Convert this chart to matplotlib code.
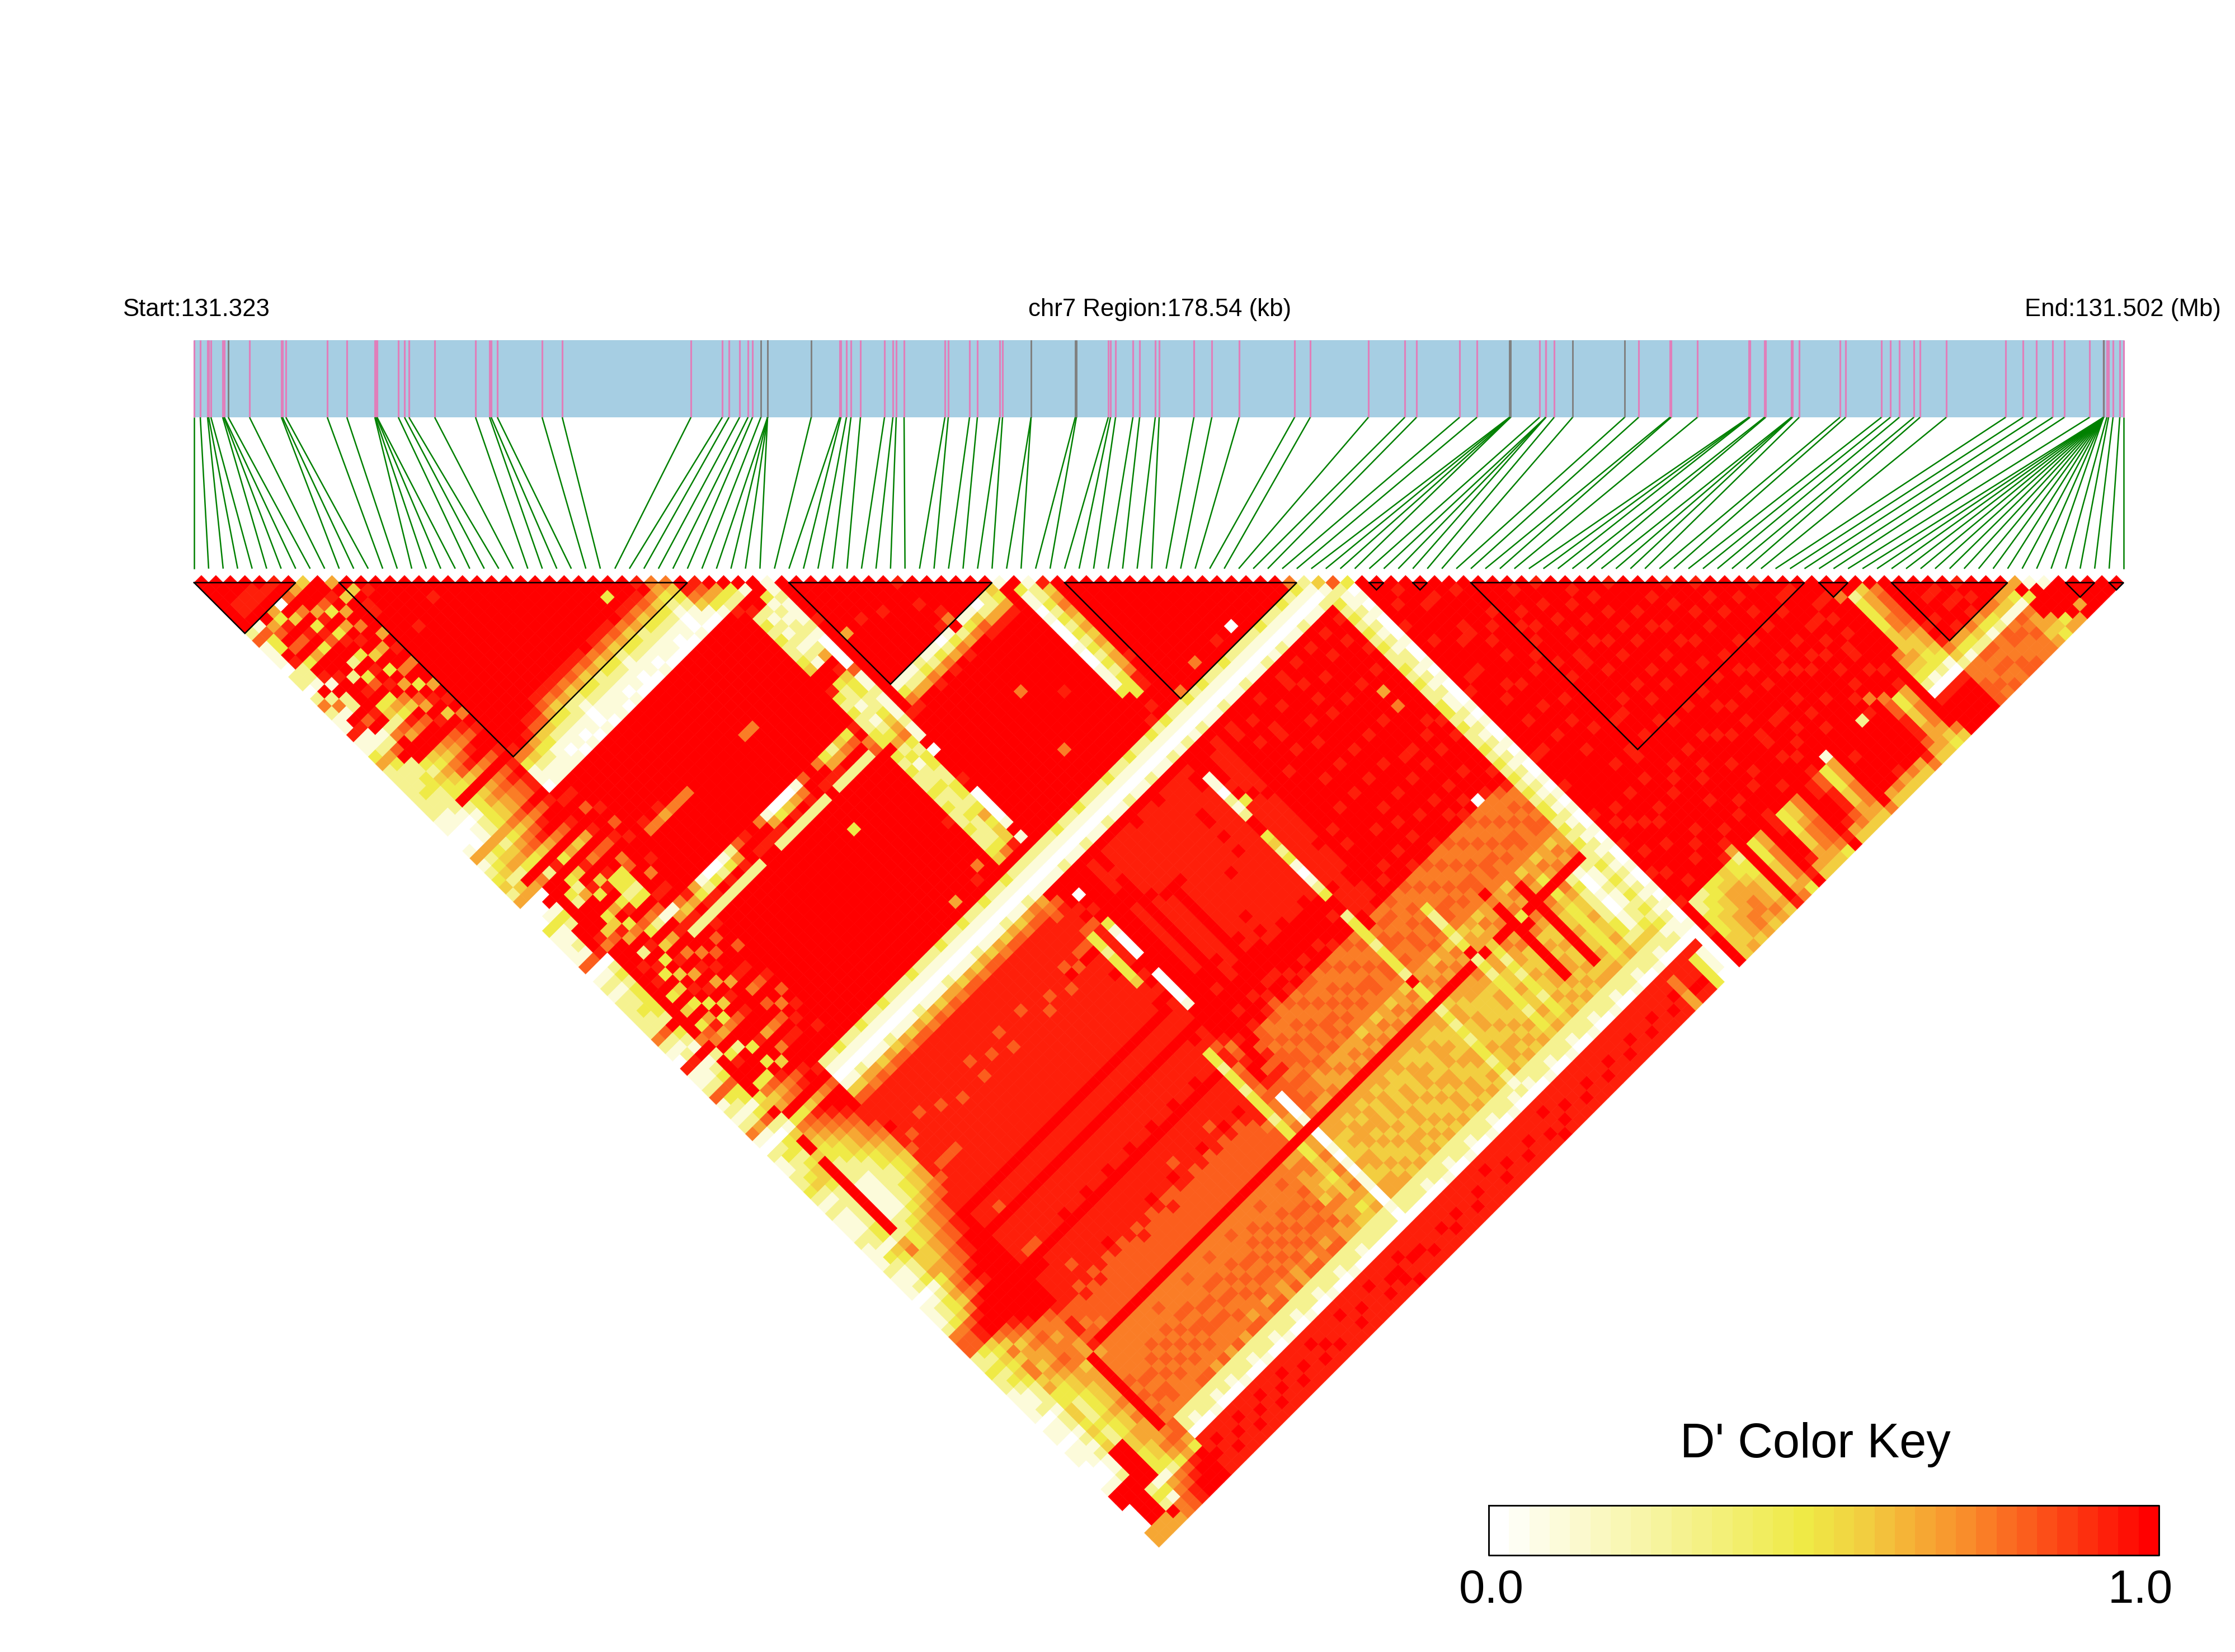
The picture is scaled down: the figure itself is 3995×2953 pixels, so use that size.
"""LD heatmap of a chr7 region with D' colour key."""

import matplotlib

matplotlib.use("Agg")
import matplotlib.pyplot as plt
from matplotlib.collections import PolyCollection
from matplotlib.colors import LinearSegmentedColormap

plt.rcParams["font.family"] = ["Liberation Sans", "DejaVu Sans"]

WIDTH, HEIGHT = 3995, 2953

# SNP position along the region, 0 = start, 3449 = end
SNP_POS = [
    0, 11, 24, 26, 30, 51, 53, 54, 61, 99, 156, 158, 164, 238, 273, 323, 324, 326, 327, 365,
    376, 384, 430, 503, 528, 531, 542, 622, 658, 888, 944, 956, 975, 990, 998, 1013, 1025, 1025, 1025, 1025,
    1103, 1154, 1156, 1166, 1174, 1191, 1234, 1249, 1255, 1269, 1342, 1348, 1386, 1400, 1440, 1445, 1496, 1496, 1575, 1577,
    1634, 1638, 1647, 1678, 1690, 1718, 1725, 1787, 1819, 1868, 1967, 1995, 2099, 2164, 2185, 2262, 2293, 2351, 2352, 2353,
    2353, 2405, 2416, 2416, 2416, 2431, 2464, 2557, 2582, 2638, 2640, 2687, 2779, 2780, 2781, 2807, 2809, 2855, 2856, 2857,
    2869, 2942, 2952, 3016, 3032, 3048, 3074, 3085, 3132, 3238, 3269, 3293, 3322, 3343, 3388, 3413, 3413, 3413, 3413, 3413,
    3413, 3413, 3413, 3413, 3413, 3413, 3413, 3413, 3413, 3419, 3422, 3430, 3442, 3449,
]
GREY_SNPS = [8, 35, 36, 37, 38, 39, 40, 56, 57, 58, 59, 77, 78, 79, 80, 86, 87, 115, 116, 117, 118, 119, 120, 121]

# LD blocks as (first SNP, last SNP)
BLOCKS = [(0, 7), (10, 34), (41, 55), (60, 76), (81, 82), (84, 85), (88, 111), (112, 114), (117, 125), (129, 131), (132, 133)]

# D' per level character, read against the colour key
LEVELS = {"0": 0.0, "1": 0.1, "2": 0.28, "3": 0.47, "4": 0.56, "5": 0.66, "6": 0.75, "7": 0.81, "8": 0.91, "9": 0.97, "a": 1.0}

# One string per SNP i, cells (i, j) for j = i+1 ..., split where j reaches a multiple of ten
LD_ROWS = [
    "aaaaaaa27 1110220262 1181135222 2222110015 1234250003 1111701212 2222621081 1271212610 2112232121 1121112111 0111267722 3221111011 0110001aa0 0055",
    "aaa88a17 33a8221a26 1a81125322 2322110005 2342450013 1121701212 2322721281 1273212510 2322342121 1122132112 0122367732 3232112011 0111001aaa aa55",
    "aa88aa5 7a7a3a81a2 2a7a127a22 3322210115 3452a50a13 2aaa802323 3332a32191 2373313720 3323443222 2233143223 1233478843 4343222122 1212112aaa aa55",
    "a88a53 8a7a5aa8aa aa8a26aaa3 2433a21225 2453a6aaaa aaa86aaaaa aaaaaaa6a2 aaaaa34a21 4aa4aaaaaa aaaa256445 3454689964 6466453344 3434aaaaa2 32a5",
    "a8a0a 4a8a3aaa2a 8a34275aa4 3543a33335 3563a2aa32 aaa47aaa8a 8a3a4a376a 38aa3645a3 6543322211 1112233445 5676899a76 4554543322 2322aaaaa1 3166",
    "8a7a 6a387aa2a3 7a35386aa5 4674a45446 4674a8a325 aa3485a2a8 3a4a3a585a 29aa3756a3 7654332211 1112344556 6787999a87 5655654433 3433443331 5677",
    "a5a a58a38a3a8 a8a6497aa6 5785a56557 5785a3a4a8 3a5a36a8a3 a4a8a3a36a a3a3a867a4 8765443222 2223455667 7898aa9a98 6766765544 4544554432 6788",
    "4a a73a5a8a4a 3a5a75a8a7 6896a67668 6896a5a8a4 8a38a73a4a 8a5a8a4a7a a8aa4978a5 9876554332 2334566778 8999aa9a99 6656664555 5656555653 7899",
    "a a8a5a6aa5a a6a3a8a4a8 79a7a78779 79a7a4a6a8 3323a62a5a 6a8a5a8a8a a5a6a989a6 a987665443 3445677889 9a9aaa9aa9 766655aaaa aaaaaa6765 89aa",
    "5a4a9aa5a8 a6aa5a8a6a 89a8a89889 8aa8a5a7a9 3323a71a8a a6a8a5a999 a6a8a998a7 9a98876554 4556788999 aaa9aa9a9a 8788785666 7676767753 99aa",
    "a4a88aaaa aa9aaaa9aa a9a9863110 a89aa8a7a6 7aaa8a1582 aa7aa8a6a7 a7a8a9a210 1478889887 8887888a88 a8888aa888 87767a6666 6767662208 8988",
    "a8aaa9aa a9aaaaaa9a aa9a964211 a8a7aaa89a aa6a8a6482 a7aaa8a7aa 6a8aa9a210 1478888878 8878888a88 a8887aa888 87776a6666 6767762108 9888",
    "aaaaaa8 aaa9aaaaaa 9aa9853211 9aaa8a7a8a a8aaaa8592 8aa7aaa8a7 a8aa8aa310 2568888888 8878888a87 a8887a8888 78777a6666 7676662208 8898",
    "aaa9aa aaaaa9aaaa a9a8743111 aa9aaaaa9a aaaa9a5382 aa9a9a9aaa 9aaa9a9210 1578888788 8878888a88 a8888a8878 87777a6667 6767662218 8988",
    "aaaaa aa9aaaaaaa 9a98742101 a9aaaa9a86 aaaaa91282 a9aaa9aa9a aa9aa9a210 1468888888 8888888a88 a8888a8888 78777a6666 7676672108 9888",
    "aa8a aaaaa9aaaa 9a87532110 aaa9aaaa96 aaaa9a0392 9aaaaa9aa9 aa9aaa9310 1578888878 8888888a88 a8888a8888 87777a6667 6767672208 8898",
    "a9a aaaaaaa9aa a986432101 aa9aaa9a85 aaaaa90282 aa9aa9aaaa 9aa9aa9210 2478888888 8888888a88 a8889a8888 77777a6766 7676652108 8988",
    "aa a9aaaaaaaa 9a87522110 9aaaaaaa96 aaa9aa1392 a9aaaaa9aa a9aa9aa210 1568888887 8888888a88 a8888a8889 87777a6667 6767672218 9888",
    "a aaa9aaaaaa a986421001 aaa9aaa9a6 aaaaa92582 aaaa9aaa9a aaa9aa9310 1478888888 8888888a88 a8888a8888 77777a6667 6776652208 8898",
    "aaaaa9aaaa a987532110 a9aaaaaa96 aaaa9a7a92 aa9aaa9aaa 9aaa9aa210 1578888888 8888888a88 a8889a8888 87777a6666 7676672108 8988",
    "aa9aaaaaa 9a86432111 aaaaa9aaa9 a9aaaa8a8a 9aaaa9aa9a aa9aaa9210 2468888787 8888888a88 a8888a8888 78777a6766 7676652218 9888",
    "aaaaa9aa a987522110 aa9aaaaaaa aaaaa99a8a aaa9aaaa9a a9aaa9a210 1578888888 8888888a88 a8888a8888 87777a6667 6767672208 8898",
    "aaaaaaa 9a96432101 aaaaa9aaaa aa9aaa6982 a9aaa9aaaa aaa9aaa310 1468888878 8888888a88 a8889a8888 77777a6667 6766572108 8988",
    "aa9aaa a987532110 aaa9aaaaa9 aaaa9a1582 aaa9aaa9aa 9aa9aa9210 1578888888 8888888a88 a8888a8889 87777a6766 7676662218 8888",
    "aaaaa 9a86421100 aaaaaaaa9a a9aaaa0392 9aaaaa9aaa aaaa9aa210 2568888787 8888888a88 a8888a8888 78777a6667 6767572208 9898",
    "a9aa a987532110 a9aaa9aaaa aaaa9a0482 aa9aaaa9aa a9aaa9a210 1478888888 8888888a88 a8889a8888 77777a6666 7676672108 8988",
    "aaa 9a96432101 aaaaaaa9aa aaa9aa0592 a9aa9aaaaa 9aa9aaa310 1578888888 8888888a88 a8888a8889 87777a6766 7676552218 8898",
    "aa 3a87522110 aa9aaaaaa6 aaaaa91682 aaaaaaa9aa aa9aa9a210 1468888788 8888888a88 a8888a8878 87777a6667 6767672208 8888",
    "a 9a86432110 aaaaaa9aa6 aaaa9a7a92 9aa3aaaaa9 aaaa9aa210 2578888888 8888888a88 a8889a8888 77777a6676 7676552108 9888",
    "9a87532100 a9aaaaaaaa aaa9aa9a8a aa9aaaa9aa a9aaa9a310 1478888887 8888888a88 a8888a8888 87777a6667 6767672218 8898",
    "8a6432110 aa9aaa9aaa a9aaaa6982 aaaaa9aaaa 9aaa95a210 1568888878 8888888a88 a8888a8889 77777a6766 7676572208 8988",
    "65321001 aaaaaa9aaa aaaaa93582 a9aaaaaa9a aa9aaaa210 1478888888 8888888a88 a8889a8888 87777a6667 6767662108 8888",
    "6432110 aaa9aaaaaa aa9aaa2592 aaa9aa9aaa a9aa9a9310 2578888887 8888888a88 a8888a8878 77777a6666 7676572218 9888",
    "a86410 a9aaaaaa9a aaaa9a4692 9aaaaaa9aa aaaaa8a210 1468888798 8888888a88 a8888a8889 87777a6766 7676672208 8898",
    "87531 aaaaa9aaaa 9aaa9a3792 a9aaaa9aaa a9a96aa210 1578888878 8888888a88 a8889a8888 77777a6667 6767552108 8988",
    "a532 8a9aaaa9aa a9aa9a8a67 9a9a9aa9a8 a9a9a9a310 2678888798 8888888a88 a8888a8889 87777a5655 5465652208 8998",
    "a32 a823232234 9a83232233 a323223232 232234a210 1567888798 8a88888a88 a8888a8888 88677a5665 4565542208 9889",
    "a1 a921212121 a932212123 5231223222 322236a210 1a78887332 3334889a88 a983323323 33233a3344 3445342208 8988",
    "a a312122125 a843322345 6323322332 353448a210 1a998a7888 88a8a8a888 a887886776 76656a5565 6565452208 8988",
    "1121112100 0071121112 11a0a9a890 0001a1a210 1a90a89310 00a900001a a9a86789a8 70001a0010 1011001008 8898",
    "aa9aa8aaa aaaa9aa9a8 aa9aa9a9aa a9aaa9a210 2aaaaaaaaa aaaaaaaaa9 aaaa8a9a78 77776a5544 4544552208 8888",
    "aaaa9aa5 aaaaaa1368 aaaa9aaaaa aaa9aaa210 1aaaaa99aa aaaaaaaaaa aaaaa97878 67675a5545 4554552208 8988",
    "aaa9aaa 9aaaaa1259 a9aaaaaa9a 9aaaa9a310 1a88889988 8888888aa8 9a8a877677 67665a5455 5445452208 8898",
    "aaaaa8 aa9aaa1259 aaaaa9aaaa aa9aaa9210 2a998aaaaa aaaaaaaaaa aaa9a66767 76556a5545 4544542108 8988",
    "aa9aa aaaaa92368 a9aaaaa9aa aaaa9a9210 1a888888a8 8888888a88 aa8a876676 67655a5455 5454452208 8888",
    "aaaa 8aaaaa1259 aaa9aaaaaa 9aa9aaa310 1a8888888a 8888888889 aaa8766767 76565a5544 4545542218 8898",
    "aa9 aaaaa91368 aaaaaa9aaa aa9aaa9210 2a88888889 aaaaaaaaa9 aa89a76676 67556a5455 5445452108 8988",
    "aa a9aaaa0259 aaa9aa9aaa a9aaaaa210 1a88888889 8888888a8a aa8a867667 76565a5544 4554542208 8888",
    "8 aa8aa81368 9aaaaaaa9a aa6aa9a210 1aa8888888 8888888889 aaa8a76767 67556a5445 5445452218 9888",
    "aaaa86a259 aaaaa6aa9a a9aaaaa310 2a88888888 888888a8a8 aaaa876676 76465a5544 4544542108 8898",
    "aaa9a1369 a9aaaa9aaa aaa9aa9210 1a88888888 8888888888 aaa8a66767 66556a5455 5454452208 8988",
    "aa9a1478 aaa9aaaaaa a9aaaaa210 1aa8888888 88a8888889 aaaa976676 76465a5445 4545542218 8888",
    "aaa0258 aaaaa9aa8a aaa9aa9310 2a88888888 8888888888 aaa8a67667 66556a5544 4554452108 8898",
    "a92258 a9aaaaa9aa aaaaa9a210 1a8888aa89 8a88888888 aaaa866767 76465a5455 5445542208 8988",
    "a4358 aaaaaa9aaa a9aaaaa210 1a88888888 8888888889 a9a9a76676 66556a5445 4544452218 8888",
    "1aaa aaaaaaaa9a aaa9aa9310 2a8aa88888 8888888888 9a8a967667 76465a5544 4554542108 8898",
    "a31 1010001001 113a9a8210 1a9a110212 aa34231012 3aa2333233 32a33a2323 2332321208 9889",
    "12 2323232323 2333a8a310 2a9a9a8a38 8888888888 a888a96776 76565a4554 4454452108 8898",
    "8 4565454545 56889aa210 1aa88888a8 8888888888 8888867676 66556a5445 5445542208 8988",
    "a9aaaaaa9a 8a9aaa9210 2a8888888a 888888a888 aa88a67667 76465a5544 4545452218 8888",
    "aaaa9aaaa a9aaa96310 1a99999aaa aa9999aaa9 9aaa976676 67556a5544 4454542108 8898",
    "aaa9aaaa aaaa9aa210 1a88999a9a 99a9aa8a89 a9a8a66767 76465a6545 5445452208 8988",
    "a9aaaaa aa9aaa9310 2a99a89aa8 9aaaa9aa9a 9a8a976632 2323a23233 3323342218 8888",
    "aaaaa9 aaa9a6a210 1aa8aa9aa9 aa99a8aa9a a9a9a67667 76455a5544 5445452108 8898",
    "aa9aa aaaaaaa210 1a99a88a8a 9a8a99aa98 9a8a866767 6654543232 3323342208 8988",
    "aaaa a9aa9a9310 2a8aa99a9a aa99a8a9a9 a9a9a76676 76465a6554 5445452218 8888",
    "aaa aaaaa8a210 1a9a89a9a8 9a8aa9aa8a 8a8a967667 66556a5644 4554542108 8898",
    "aa a9aaa9a210 1aa99aa8a9 a9a9a89a9a 9a9a866767 7a6aaaaaaa aaa5452208 8988",
    "9 aaaaa0a210 2a88a9aa9a 9a8a9a9a89 a8a9a76676 665563a645 4554542218 8888",
    "a9aaaa9210 1a9a8a8a8a a9a9a8a9a9 9a9aa67667 76465a6544 5445452108 8898",
    "aa9aaa310 2a8aa9a99a 9a8aa9aa8a a8a8966767 666aaaaaaa aaaa452208 8988",
    "aaaa9210 1a99a8aa89 a9aa9a8aa9 9a9a876676 76465a6544 5445452218 8888",
    "aa9a210 1a8a9a99a9 9a8a9a8a8a a8a8a67667 66553a3433 3333342108 8898",
    "aaa310 2a9a8a9a8a a9aaa9a9a9 9a9a066767 76465a6544 5445452208 8988",
    "aa210 1a8aa9aa9a 5a6a9a8a8a a8a9866676 66556a2322 2233242218 6655",
    "6310 1a9a8a9a89 a9a9a8a9a9 9a9a976767 76465a1001 0011242108 8898",
    "210 2a8a9a8a9a 9a9a9a8a8a a9a8a86676 76556a2112 1122342208 8898",
    "41 2323232322 3232233232 2323232323 3232322323 2323231208 3333",
    "7 2112121212 2121211212 1212121212 1212121212 1212121108 1110",
    "3010100010 0101000101 0010100101 0100101001 0010100100 0000",
    "aa9aaa8aa aaaa9a8aaa aaa9a8aa98 aaa8a9a8a9 a8a9a8a9a8 a9aa",
    "a9a8aaa9 8a9aa8aaa9 aaa9a8aa99 aaa9a8aaa8 9a8a9a2233 3444552208 9a9a",
    "a8a9a9a aaaaa8a9a8 9a8aa9aaaa 9aaa8a8aaa 9a9a8a2334 4445552108 a9aa",
    "a9a8aa 9a8aa9aa8a aaaaa8aa99 aaa99aa8a9 8a9a9a3344 5554442208 a9a9",
    "aa8a9 a88aa9aaa8 9a8aa9aa8a 9aaa8aaa8a a9a8a93455 5665352108 aa9a",
    "a9a9 9aaa8a8aaa aa99a8aa99 a8aaa9a8a9 9a8a9a4455 6654342208 a9aa",
    "a89 a9a8aa9aa8 aaa8a9a8aa 9aaa8aa9aa a8a9a83345 5565332108 9a9a",
    "a9 9a8aa9aa8a aa9aa9aaa9 a88aa9a8aa 9a9a852334 4454352208 a9aa",
    "9 aaa9a8a8a9 8a8aa9aa8a 9aaa9a8aaa a9a8a9aaaa a9a8a54208 aa9a",
    "9aaa8a8aaa 9aaa9a9a8a a8aaa8a9a9 8a9aaa3334 4456453108 a9aa",
    "a8a9aaa9a a88aa9a8a9 9aaaa9aa8a a9a8a95566 6653342208 aaa9",
    "a9a8a8a8 9aaa8a9aaa a8a9a8a8a9 9a8a9aaaaa a98a543108 a9aa",
    "8a9aaa9 a8aaa9a8a8 9a8aa9aaaa a9a9a88899 9854342208 aa9a",
    "a9a8a8 9a8a8aaa9a a9a9a8a9a8 9a8a9a3334 4554353108 a9aa",
    "a8a9a a9aaa9a8a8 9a8a9a8aaa a8a9a94456 6654242208 aaa9",
    "9a8a 8a8a8a9aaa a9a9aaa8a9 9a9a8a6667 7763332108 a9aa",
    "a9a aaa9a9a8a8 9a8a8a9aaa a9a9a9aaaa 9a89542208 aa9a",
    "8a 9a8a8aaa9a a9a9a8a8a8 8a8a9a8899 9854353108 a9aa",
    "a a9aaa8a8a9 8a8a9a9aaa a9a8a87788 8764242208 aaa9",
    "9a8aaa9a8a a9a9a8a9a8 9a8a9a3334 4554332108 a9aa",
    "a9a8aaa9a a8a8a9a9a8 a8a9a15556 6654342208 aa9a",
    "8a9a8a8a 9aaa8a8a9a 9a9a9aaaaa aa96453108 a9aa",
    "a9aaa9a a8a9aaa9a8 a8a8a99899 a954342208 aaa9",
    "8a8a8a 9a8a9a8aaa 9a9a9aaaa9 a964533108 a9aa",
    "a9aaa a9a9a8a8a9 a8a9a99aa9 a854342208 aa9a",
    "9a8a 8a8a9aaa8a 9a9a92aa99 a964533108 a9aa",
    "a9a a9a9a8a8a9 a9a8a8aaaa a954342208 aaa9",
    "8a 9a8a9aaa8a 8a8a6a9a99 aa86533108 a9aa",
    "a a8a9a8a8a9 a9a9a67788 8754342208 aa9a",
    "a8a9a8a9a8 8a8a9a3344 5554432108 a9aa",
    "a9a8a8a8a a9a8a85566 6543332208 aaa9",
    "9a8a9aaa 9a9a9aaaa9 a964543108 a9aa",
    "aa6aaaa aa96543208 9aaa",
    "a92333 3444543108 a9aa",
    "a4555 6654433208 aaa9",
    "a677 7765543108 aa9a",
    "a9a a9a8a86426 6777",
    "a9 a9a8aa5316 6676",
    "a a8a9a85327 6767",
    "a8a8aa6427 6766",
    "a98a85316 6677",
    "8a8a6327 7667",
    "a9a6416 7666",
    "aa5417 6766",
    "a5316 5545",
    "5a39 a543",
    "1aa aa35",
    "1a aaa5",
    "a aa5a",
    "aaaa",
    "aaa",
    "aa",
    "a",
]

KEY_TITLE = "D' Color Key"
KEY_BANDS = 33
KEY_LABELS = ["0.0", "1.0"]
KEY_COLORS = [(0.0, "#ffffff"), (0.47, "#efea46"), (0.56, "#f2cf40"), (0.72, "#f98c2b"), (1.0, "#ff0000")]


def read_row(i, text):
    """Give the D' values of row i; each group keeps its place even if a length is off."""
    n = len(SNP_POS)
    values = {}
    j = i + 1
    for group in text.split():
        end = min((j // 10 + 1) * 10, n)
        for k, ch in enumerate(group[: end - j]):
            values[j + k] = LEVELS[ch]
        for k in range(len(group), end - j):
            values[j + k] = LEVELS[group[-1]]
        j = end
    return values


def main():
    fig = plt.figure(figsize=(WIDTH / 300, HEIGHT / 300), dpi=300)
    ax = fig.add_axes([0, 0, 1, 1])
    ax.set_xlim(0, WIDTH)
    ax.set_ylim(HEIGHT, 0)
    ax.axis("off")

    left, right = 347, 3796
    n = len(SNP_POS)
    step = (right - left) / (n - 1)
    half = step / 2
    top = 1028.5
    cmap = LinearSegmentedColormap.from_list("dprime", KEY_COLORS, N=KEY_BANDS)

    # labels above the map
    ax.text(219, 565, "Start:131.323", fontsize=10.5, ha="left", va="baseline")
    ax.text(2073, 565, "chr7 Region:178.54 (kb)", fontsize=10.5, ha="center", va="baseline")
    ax.text(3970, 565, "End:131.502 (Mb)", fontsize=10.5, ha="right", va="baseline")

    # gene bar with SNP ticks
    ax.fill_between([left, right], 608, 746, color="#a6cee3", lw=0)
    xs = [left + p / SNP_POS[-1] * (right - left) for p in SNP_POS]
    pink = [x for k, x in enumerate(xs) if k not in GREY_SNPS]
    grey = [x for k, x in enumerate(xs) if k in GREY_SNPS]
    ax.vlines(pink, 608, 746, color="#e07fba", lw=0.75)
    ax.vlines(grey, 608, 746, color="#808080", lw=0.7)

    # connectors from bar to map
    ends = [left + k * step for k in range(n)]
    for x, end in zip(xs, ends):
        ax.plot([x, end], [746, 1016.5], color="#008000", lw=0.6, solid_capstyle="butt")

    # D' cells as diamonds
    polys = []
    vals = []
    for i, text in enumerate(LD_ROWS):
        for j, v in read_row(i, text).items():
            cx = left + (i + j) * half
            cy = top + (j - i) * half
            polys.append([(cx - half, cy), (cx, cy - half), (cx + half, cy), (cx, cy + half)])
            vals.append(v)
    cells = PolyCollection(polys, array=vals, cmap=cmap, clim=(0, 1), edgecolors="face", linewidths=0.15)
    ax.add_collection(cells)

    # LD block outlines
    for a, b in BLOCKS:
        xa, xb = left + a * step, left + b * step
        y0 = top + half
        ax.plot([xa, xb, (xa + xb) / 2, xa], [y0, y0, y0 + (xb - xa) / 2, y0], color="black", lw=0.6, solid_joinstyle="miter")

    # colour key
    key_x = [2661 + (3859 - 2661) * k / KEY_BANDS for k in range(KEY_BANDS + 1)]
    key_vals = [[k / (KEY_BANDS - 1) for k in range(KEY_BANDS)]]
    ax.pcolormesh(key_x, [2690.5, 2780], key_vals, cmap=cmap, vmin=0, vmax=1, linewidth=0, rasterized=True)
    ax.plot([2661, 3859, 3859, 2661, 2661], [2690.5, 2690.5, 2780, 2780, 2690.5], color="black", lw=0.7)
    ax.text(3245, 2605, KEY_TITLE, fontsize=20.8, ha="center", va="baseline")
    ax.text(2666, 2865, KEY_LABELS[0], fontsize=20, ha="center", va="baseline")
    ax.text(3826, 2865, KEY_LABELS[1], fontsize=20, ha="center", va="baseline")

    fig.savefig("out.png", dpi=300, facecolor="white")


if __name__ == "__main__":
    main()
